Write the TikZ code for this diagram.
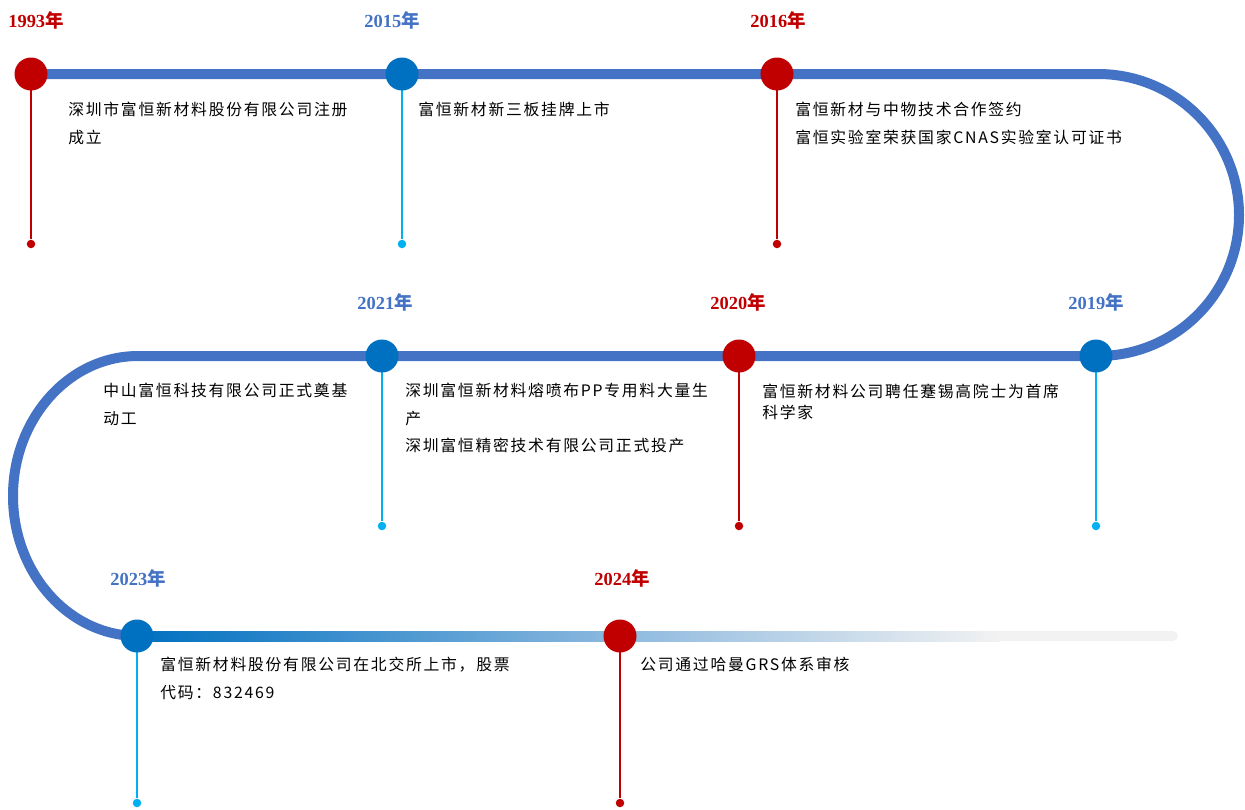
\documentclass[tikz,border=0pt]{standalone}
\usepackage{fontspec}
\setmainfont{Liberation Serif}
\newfontfamily\notefont{Noto Sans CJK SC}[LetterSpace=11]
\newfontfamily\yearcjk{Noto Sans CJK SC}
\definecolor{trackblue}{HTML}{4472C4}
\definecolor{dotred}{HTML}{C00000}
\definecolor{dotblue}{HTML}{0070C0}
\definecolor{stemblue}{HTML}{00B0F0}
\definecolor{fadeblue}{HTML}{8DB9DF}
\definecolor{fadegray}{HTML}{F2F2F2}
\newcommand\yearlbl[1]{\bfseries #1{\yearcjk\bfseries 年}}

\begin{document}
\begin{tikzpicture}[x=0.02cm,y=-0.02cm,
  event/.style={circle, inner sep=0pt, minimum size=0.66cm},
  redev/.style={event, fill=dotred},
  blueev/.style={event, fill=dotblue},
  tip/.style={circle, inner sep=0pt, minimum size=0.17cm},
  redstem/.style={draw=dotred, line width=0.6pt},
  bluestem/.style={draw=stemblue, line width=0.6pt},
  track/.style={draw=trackblue, line width=0.2cm},
  yearred/.style={text=dotred, font=\fontsize{10.5}{12}\selectfont},
  yearblue/.style={text=trackblue, font=\fontsize{10.5}{12}\selectfont},
  note/.style={anchor=north west, inner sep=0pt, align=left,
    font=\notefont\fontsize{9}{15.6}\selectfont}]

\useasboundingbox (0,0) rectangle (1245,809);

% event positions
\coordinate (p1993) at (31,74);
\coordinate (p2015) at (402,74);
\coordinate (p2016) at (777,74);
\coordinate (p2019) at (1096,356);
\coordinate (p2020) at (739,356);
\coordinate (p2021) at (382,356);
\coordinate (p2023) at (137,636);
\coordinate (p2024) at (620,636);

% track
\draw[track] (p1993) -- (1098,74) arc[start angle=-90, end angle=90, radius=141]
  -- (138,356) arc[start angle=-90, end angle=-270, x radius=125, y radius=140];
\shade[left color=dotblue, right color=fadeblue] (137,631) rectangle (620,641);
\shade[left color=fadeblue, right color=fadegray] (620,631) rectangle (1000,641);
\fill[fadegray, rounded corners=0.1cm] (995,631) rectangle (1178,641);

% stems
\node[tip, fill=dotred] (t1993) at (31,244) {};
\node[tip, fill=stemblue] (t2015) at (402,244) {};
\node[tip, fill=dotred] (t2016) at (777,244) {};
\node[tip, fill=stemblue] (t2019) at (1096,526) {};
\node[tip, fill=dotred] (t2020) at (739,526) {};
\node[tip, fill=stemblue] (t2021) at (382,526) {};
\node[tip, fill=stemblue] (t2023) at (137,803) {};
\node[tip, fill=dotred] (t2024) at (620,803) {};
\draw[redstem] (p1993) -- (t1993);
\draw[bluestem] (p2015) -- (t2015);
\draw[redstem] (p2016) -- (t2016);
\draw[bluestem] (p2019) -- (t2019);
\draw[redstem] (p2020) -- (t2020);
\draw[bluestem] (p2021) -- (t2021);
\draw[bluestem] (p2023) -- (t2023);
\draw[redstem] (p2024) -- (t2024);

% events
\node[redev] (e1993) at (p1993) {};
\node[blueev] (e2015) at (p2015) {};
\node[redev] (e2016) at (p2016) {};
\node[blueev] (e2019) at (p2019) {};
\node[redev] (e2020) at (p2020) {};
\node[blueev] (e2021) at (p2021) {};
\node[blueev] (e2023) at (p2023) {};
\node[redev] (e2024) at (p2024) {};

% years
\node[yearred] (y1993) at (36,20) {\yearlbl{1993}};
\node[yearblue] (y2015) at (392,20) {\yearlbl{2015}};
\node[yearred] (y2016) at (778,20) {\yearlbl{2016}};
\node[yearblue] (y2021) at (385,302) {\yearlbl{2021}};
\node[yearred] (y2020) at (738,302) {\yearlbl{2020}};
\node[yearblue] (y2019) at (1096,302) {\yearlbl{2019}};
\node[yearblue] (y2023) at (138,578) {\yearlbl{2023}};
\node[yearred] (y2024) at (622,578) {\yearlbl{2024}};

% notes
\node[note] (n1993) at (68,102) {深圳市富恒新材料股份有限公司注册\\成立};
\node[note] (n2015) at (418,102) {富恒新材新三板挂牌上市};
\node[note] (n2016) at (795,102) {富恒新材与中物技术合作签约\\富恒实验室荣获国家CNAS实验室认可证书};
\node[note] (n2021a) at (103,383) {中山富恒科技有限公司正式奠基\\动工};
\node[note] (n2021) at (405,383) {深圳富恒新材料熔喷布PP专用料大量生\\产\\深圳富恒精密技术有限公司正式投产};
\node[note, font=\notefont\fontsize{9}{11.5}\selectfont] (n2020) at (762,384) {富恒新材料公司聘任蹇锡高院士为首席\\科学家};
\node[note] (n2023) at (160,657) {富恒新材料股份有限公司在北交所上市，股票\\代码：832469};
\node[note] (n2024) at (640,657) {公司通过哈曼GRS体系审核};
\end{tikzpicture}
\end{document}
